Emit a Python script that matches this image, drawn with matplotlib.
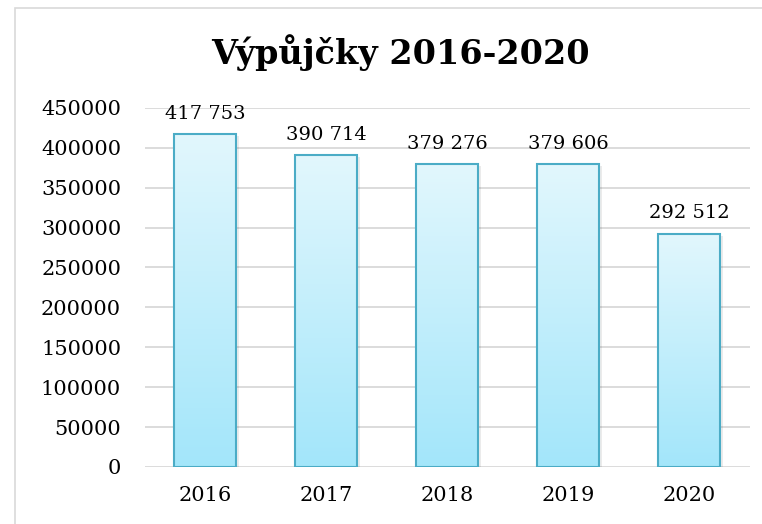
import numpy as np
import matplotlib.pyplot as plt
from matplotlib.colors import LinearSegmentedColormap
from matplotlib.patches import Rectangle

# ── Data ──────────────────────────────────────────────────────────────────────

years = ["2016", "2017", "2018", "2019", "2020"]
loans = [417753, 390714, 379276, 379606, 292512]
labels = ["417 753", "390 714", "379 276", "379 606", "292 512"]
yticks = [0, 50000, 100000, 150000, 200000, 250000, 300000, 350000, 400000, 450000]

# ── Figure ────────────────────────────────────────────────────────────────────

plt.rcParams["font.family"] = ["DejaVu Serif"]

fig = plt.figure(figsize=(7.62, 5.24), dpi=100)
fig.patches.append(Rectangle((15 / 762, -0.05), 1, 1.05 - 8 / 524, transform=fig.transFigure,
                             fill=False, edgecolor="#d9d9d9", linewidth=1.2))

ax = fig.add_axes([0.19, 0.109, 0.794, 0.685])
x = np.arange(len(years))
bars = ax.bar(x, loans, width=0.51, color="none", edgecolor="#4bacc6",
              linewidth=1.5, zorder=3)

cmap = LinearSegmentedColormap.from_list("grad", ["#a3e6fa", "#e2f7fd"])
grad = np.linspace(0, 1, 256).reshape(-1, 1)
for b in bars:
    x0, w, h = b.get_x(), b.get_width(), b.get_height()
    # soft shadow
    ax.add_patch(Rectangle((x0 + 0.02, -2500), w, h, facecolor="#000000",
                           alpha=0.08, zorder=2, linewidth=0))
    im = ax.imshow(grad, cmap=cmap, aspect="auto", origin="lower",
                   extent=[x0, x0 + w, 0, h], zorder=2.5)
    im.set_clip_path(b)

for xi, v, lab in zip(x, loans, labels):
    ax.annotate(lab, (xi, v), xytext=(0, 8), textcoords="offset points",
                ha="center", va="bottom", fontsize=14)

ax.set_xlim(-0.5, len(years) - 0.5)
ax.set_ylim(0, 450000)
ax.set_xticks(x)
ax.set_xticklabels(years, fontsize=15)
ax.set_yticks(yticks)
ax.set_yticklabels([str(t) for t in yticks], fontsize=15)
ax.tick_params(axis="both", length=0)
ax.tick_params(axis="x", pad=14)
ax.tick_params(axis="y", pad=17)
ax.grid(axis="y", color="#d9d9d9", linewidth=1.3, zorder=0)
for s in ax.spines.values():
    s.set_visible(False)

fig.text(0.525, 0.9, "Výpůjčky 2016-2020", ha="center", va="center",
         fontsize=24, fontweight="bold")

fig.savefig("out.png", dpi=100)
